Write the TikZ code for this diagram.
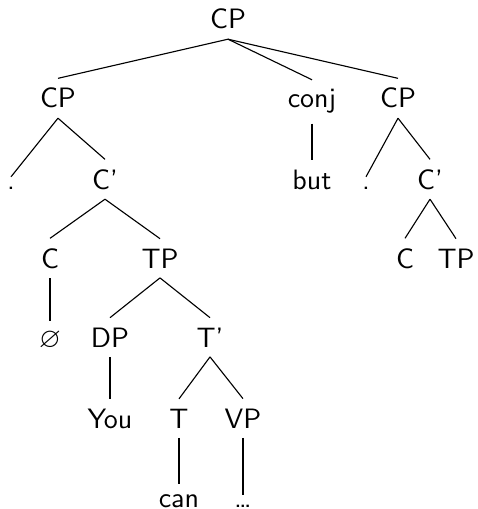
\documentclass[tikz,border=0pt]{standalone}
\usepackage{amssymb}
\begin{document}
\begin{tikzpicture}[x=0.357pt,y=-0.357pt,
  lbl/.style={anchor=base,font=\sffamily\fontsize{10}{12}\selectfont,inner sep=3.33pt},
  edge/.style={draw=black,line width=0.4pt}]
\useasboundingbox (0,0) rectangle (477,509);
% row 1
\node[lbl] (root) at (228,29) {CP};
% row 2
\node[lbl] (cpL) at (58,108) {CP};
\node[lbl] (conj) at (312,108) {conj};
\node[lbl] (cpR) at (398,108) {CP};
% row 3
\node[lbl] (dotL) at (11,189) {.};
\node[lbl] (cbL) at (105,189) {C'};
\node[lbl] (but) at (312,189) {but};
\node[lbl] (dotR) at (366,189) {.};
\node[lbl] (cbR) at (430,189) {C'};
% row 4
\node[lbl] (cL) at (50,268) {C};
\node[lbl] (tpL) at (160,268) {TP};
\node[lbl] (cR) at (405,268) {C};
\node[lbl] (tpR) at (456,268) {TP};
% row 5
\node[lbl] (empty) at (50,347) {$\varnothing$};
\node[lbl] (dp) at (110,347) {DP};
\node[lbl] (tb) at (210,347) {T'};
% row 6
\node[lbl] (you) at (110,428) {You};
\node[lbl] (t) at (179,428) {T};
\node[lbl] (vp) at (243,428) {VP};
% row 7
\node[lbl] (can) at (179,507) {can};
\node[lbl] (dots) at (243,507) {\dots};
% edges
\draw[edge] (root.south) -- (cpL.north);
\draw[edge] (root.south) -- (conj.north);
\draw[edge] (root.south) -- (cpR.north);
\draw[edge] (cpL.south) -- (dotL.north);
\draw[edge] (cpL.south) -- (cbL.north);
\draw[edge] (conj.south) -- (but.north);
\draw[edge] (cpR.south) -- (dotR.north);
\draw[edge] (cpR.south) -- (cbR.north);
\draw[edge] (cbL.south) -- (cL.north);
\draw[edge] (cbL.south) -- (tpL.north);
\draw[edge] (cbR.south) -- (cR.north);
\draw[edge] (cbR.south) -- (tpR.north);
\draw[edge] (cL.south) -- (empty.north);
\draw[edge] (tpL.south) -- (dp.north);
\draw[edge] (tpL.south) -- (tb.north);
\draw[edge] (dp.south) -- (you.north);
\draw[edge] (tb.south) -- (t.north);
\draw[edge] (tb.south) -- (vp.north);
\draw[edge] (t.south) -- (can.north);
\draw[edge] (vp.south) -- (dots.north);
\end{tikzpicture}
\end{document}
